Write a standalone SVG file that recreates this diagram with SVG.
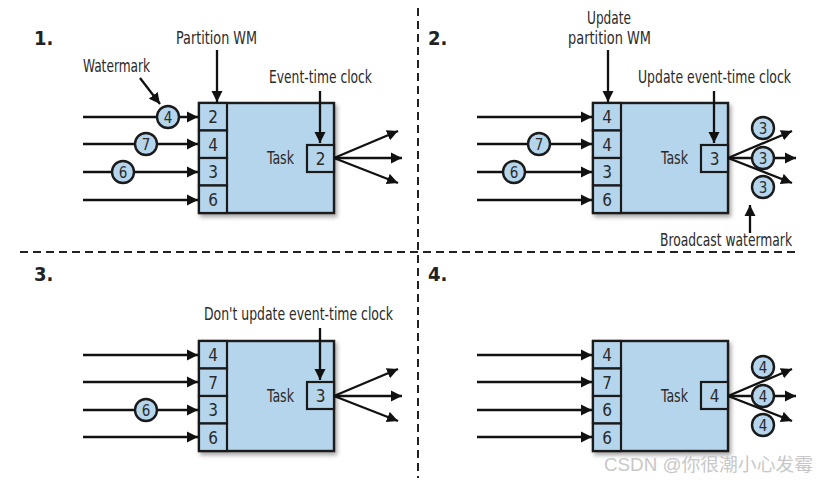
<svg xmlns="http://www.w3.org/2000/svg" width="830" height="483" viewBox="0 0 830 483">
<defs>
<marker id="ah" markerUnits="userSpaceOnUse" markerWidth="12" markerHeight="12" refX="11" refY="6" orient="auto"><path d="M0,0.5 L11,6 L0,11.5 z" fill="#111"/></marker>
<filter id="sh" x="-10%" y="-10%" width="130%" height="130%"><feDropShadow dx="2" dy="3" stdDeviation="2" flood-color="#000" flood-opacity="0.35"/></filter>
</defs>
<style>
.box{fill:#b5d5ec;stroke:#1a1a1a;stroke-width:2.4}
.cell{fill:#b5d5ec;stroke:#1a1a1a;stroke-width:2.2}
.wm{fill:#b5d5ec;stroke:#1a1a1a;stroke-width:2.4}
.ar{stroke:#111;stroke-width:2.3;fill:none;marker-end:url(#ah)}
.dash{stroke:#222;stroke-width:2;stroke-dasharray:8 5;fill:none}
text{font-family:"DejaVu Sans Condensed","Liberation Sans",sans-serif;fill:#2a2a2a}
.lbl{font-size:17px}
.num{font-size:17px;text-anchor:middle}
.cn{font-size:15px;text-anchor:middle}
.hd{font-size:20px;font-weight:bold;fill:#222}
.csdn{font-family:"Liberation Sans","Noto Sans CJK SC",sans-serif;font-size:18px;fill:#c8c8c8}
</style>
<rect width="830" height="483" fill="#fff"/>

<g id="dividers">
<line class="dash" x1="418" y1="8" x2="418" y2="478"/>
<line class="dash" x1="20" y1="252" x2="800" y2="252"/>
</g>

<g id="headings">
<text class="hd" x="34" y="45">1.</text>
<text class="hd" x="428" y="45">2.</text>
<text class="hd" x="34" y="281">3.</text>
<text class="hd" x="428" y="281">4.</text>
</g>

<!-- Panel 1 -->
<g id="task1" filter="url(#sh)">
<rect class="box" x="199" y="103" width="135" height="110"/>
</g>
<g id="p1cells">
<rect class="cell" x="199" y="103" width="28" height="27.5"/><text class="num" x="213" y="123">2</text>
<rect class="cell" x="199" y="130.5" width="28" height="27.5"/><text class="num" x="213" y="150.5">4</text>
<rect class="cell" x="199" y="158" width="28" height="27.5"/><text class="num" x="213" y="178">3</text>
<rect class="cell" x="199" y="185.5" width="28" height="27.5"/><text class="num" x="213" y="205.5">6</text>
<text class="lbl" x="267" y="164" textLength="27" lengthAdjust="spacingAndGlyphs">Task</text>
<rect class="cell" x="307" y="145" width="27" height="27"/><text class="num" x="320.5" y="164.5">2</text>
</g>
<g id="p1labels">
<text class="lbl" x="176" y="44" textLength="81" lengthAdjust="spacingAndGlyphs">Partition WM</text>
<text class="lbl" x="83" y="72" textLength="67" lengthAdjust="spacingAndGlyphs">Watermark</text>
<text class="lbl" x="269" y="83" textLength="103" lengthAdjust="spacingAndGlyphs">Event-time clock</text>
</g>

<!-- Panel 2 -->
<g id="task2" filter="url(#sh)">
<rect class="box" x="593" y="103" width="135" height="110"/>
</g>
<g id="p2cells">
<rect class="cell" x="593" y="103" width="28" height="27.5"/><text class="num" x="607" y="123">4</text>
<rect class="cell" x="593" y="130.5" width="28" height="27.5"/><text class="num" x="607" y="150.5">4</text>
<rect class="cell" x="593" y="158" width="28" height="27.5"/><text class="num" x="607" y="178">3</text>
<rect class="cell" x="593" y="185.5" width="28" height="27.5"/><text class="num" x="607" y="205.5">6</text>
<text class="lbl" x="661" y="164" textLength="27" lengthAdjust="spacingAndGlyphs">Task</text>
<rect class="cell" x="701" y="145" width="27" height="27"/><text class="num" x="714.5" y="164.5">3</text>
</g>
<g id="p2labels">
<text class="lbl" x="587" y="24" textLength="44" lengthAdjust="spacingAndGlyphs">Update</text>
<text class="lbl" x="568" y="44" textLength="83" lengthAdjust="spacingAndGlyphs">partition WM</text>
<text class="lbl" x="638" y="83" textLength="153" lengthAdjust="spacingAndGlyphs">Update event-time clock</text>
<text class="lbl" x="660" y="246" textLength="132" lengthAdjust="spacingAndGlyphs">Broadcast watermark</text>
</g>

<!-- Panel 3 -->
<g id="task3" filter="url(#sh)">
<rect class="box" x="199" y="341" width="135" height="110"/>
</g>
<g id="p3cells">
<rect class="cell" x="199" y="341" width="28" height="27.5"/><text class="num" x="213" y="361">4</text>
<rect class="cell" x="199" y="368.5" width="28" height="27.5"/><text class="num" x="213" y="388.5">7</text>
<rect class="cell" x="199" y="396" width="28" height="27.5"/><text class="num" x="213" y="416">3</text>
<rect class="cell" x="199" y="423.5" width="28" height="27.5"/><text class="num" x="213" y="443.5">6</text>
<text class="lbl" x="267" y="402" textLength="27" lengthAdjust="spacingAndGlyphs">Task</text>
<rect class="cell" x="307" y="382" width="27" height="27"/><text class="num" x="320.5" y="401.5">3</text>
</g>
<g id="p3labels">
<text class="lbl" x="204" y="320" textLength="189" lengthAdjust="spacingAndGlyphs">Don't update event-time clock</text>
</g>

<!-- Panel 4 -->
<g id="task4" filter="url(#sh)">
<rect class="box" x="593" y="341" width="135" height="110"/>
</g>
<g id="p4cells">
<rect class="cell" x="593" y="341" width="28" height="27.5"/><text class="num" x="607" y="361">4</text>
<rect class="cell" x="593" y="368.5" width="28" height="27.5"/><text class="num" x="607" y="388.5">7</text>
<rect class="cell" x="593" y="396" width="28" height="27.5"/><text class="num" x="607" y="416">6</text>
<rect class="cell" x="593" y="423.5" width="28" height="27.5"/><text class="num" x="607" y="443.5">6</text>
<text class="lbl" x="661" y="402" textLength="27" lengthAdjust="spacingAndGlyphs">Task</text>
<rect class="cell" x="701" y="382" width="27" height="27"/><text class="num" x="714.5" y="401.5">4</text>
</g>

<g id="connectors">
<!-- panel 1 -->
<line class="ar" x1="83" y1="117" x2="198" y2="117"/>
<line class="ar" x1="83" y1="144" x2="198" y2="144"/>
<line class="ar" x1="83" y1="172" x2="198" y2="172"/>
<line class="ar" x1="83" y1="200" x2="198" y2="200"/>
<line class="ar" x1="217" y1="50" x2="217" y2="102"/>
<line class="ar" x1="140" y1="78" x2="160" y2="104"/>
<line class="ar" x1="320" y1="91" x2="320" y2="143"/>
<line class="ar" x1="334" y1="158" x2="398" y2="131"/>
<line class="ar" x1="334" y1="158" x2="402" y2="158"/>
<line class="ar" x1="334" y1="158" x2="398" y2="183"/>
<!-- panel 2 -->
<line class="ar" x1="477" y1="117" x2="592" y2="117"/>
<line class="ar" x1="477" y1="144" x2="592" y2="144"/>
<line class="ar" x1="477" y1="172" x2="592" y2="172"/>
<line class="ar" x1="477" y1="200" x2="592" y2="200"/>
<line class="ar" x1="608" y1="50" x2="608" y2="102"/>
<line class="ar" x1="714" y1="91" x2="714" y2="143"/>
<line class="ar" x1="728" y1="158" x2="792" y2="131"/>
<line class="ar" x1="728" y1="158" x2="796" y2="158"/>
<line class="ar" x1="728" y1="158" x2="792" y2="183"/>
<line class="ar" x1="750" y1="233" x2="750" y2="205"/>
<!-- panel 3 -->
<line class="ar" x1="83" y1="355" x2="198" y2="355"/>
<line class="ar" x1="83" y1="382" x2="198" y2="382"/>
<line class="ar" x1="83" y1="410" x2="198" y2="410"/>
<line class="ar" x1="83" y1="437" x2="198" y2="437"/>
<line class="ar" x1="320" y1="328" x2="320" y2="380"/>
<line class="ar" x1="334" y1="396" x2="398" y2="369"/>
<line class="ar" x1="334" y1="396" x2="402" y2="396"/>
<line class="ar" x1="334" y1="396" x2="398" y2="421"/>
<!-- panel 4 -->
<line class="ar" x1="477" y1="355" x2="592" y2="355"/>
<line class="ar" x1="477" y1="382" x2="592" y2="382"/>
<line class="ar" x1="477" y1="410" x2="592" y2="410"/>
<line class="ar" x1="477" y1="437" x2="592" y2="437"/>
<line class="ar" x1="728" y1="396" x2="792" y2="369"/>
<line class="ar" x1="728" y1="396" x2="796" y2="396"/>
<line class="ar" x1="728" y1="396" x2="792" y2="421"/>
</g>

<g id="watermarks">
<g id="wm1-4"><circle class="wm" cx="168" cy="117" r="11"/><text class="cn" x="168" y="122.5">4</text></g>
<g id="wm1-7"><circle class="wm" cx="146" cy="144" r="11"/><text class="cn" x="146" y="149.5">7</text></g>
<g id="wm1-6"><circle class="wm" cx="123" cy="172" r="11"/><text class="cn" x="123" y="177.5">6</text></g>
<g id="wm2-7"><circle class="wm" cx="539" cy="144" r="11"/><text class="cn" x="539" y="149.5">7</text></g>
<g id="wm2-6"><circle class="wm" cx="514" cy="172" r="11"/><text class="cn" x="514" y="177.5">6</text></g>
<g id="wm2-out1"><circle class="wm" cx="763" cy="128" r="11"/><text class="cn" x="763" y="133.5">3</text></g>
<g id="wm2-out2"><circle class="wm" cx="763" cy="158" r="11"/><text class="cn" x="763" y="163.5">3</text></g>
<g id="wm2-out3"><circle class="wm" cx="763" cy="187" r="11"/><text class="cn" x="763" y="192.5">3</text></g>
<g id="wm3-6"><circle class="wm" cx="146" cy="410" r="11"/><text class="cn" x="146" y="415.5">6</text></g>
<g id="wm4-out1"><circle class="wm" cx="763" cy="367" r="11"/><text class="cn" x="763" y="372.5">4</text></g>
<g id="wm4-out2"><circle class="wm" cx="763" cy="396" r="11"/><text class="cn" x="763" y="401.5">4</text></g>
<g id="wm4-out3"><circle class="wm" cx="763" cy="425" r="11"/><text class="cn" x="763" y="430.5">4</text></g>
</g>

<text class="csdn" x="604" y="471" textLength="209" lengthAdjust="spacingAndGlyphs">CSDN @你很潮小心发霉</text>
</svg>
